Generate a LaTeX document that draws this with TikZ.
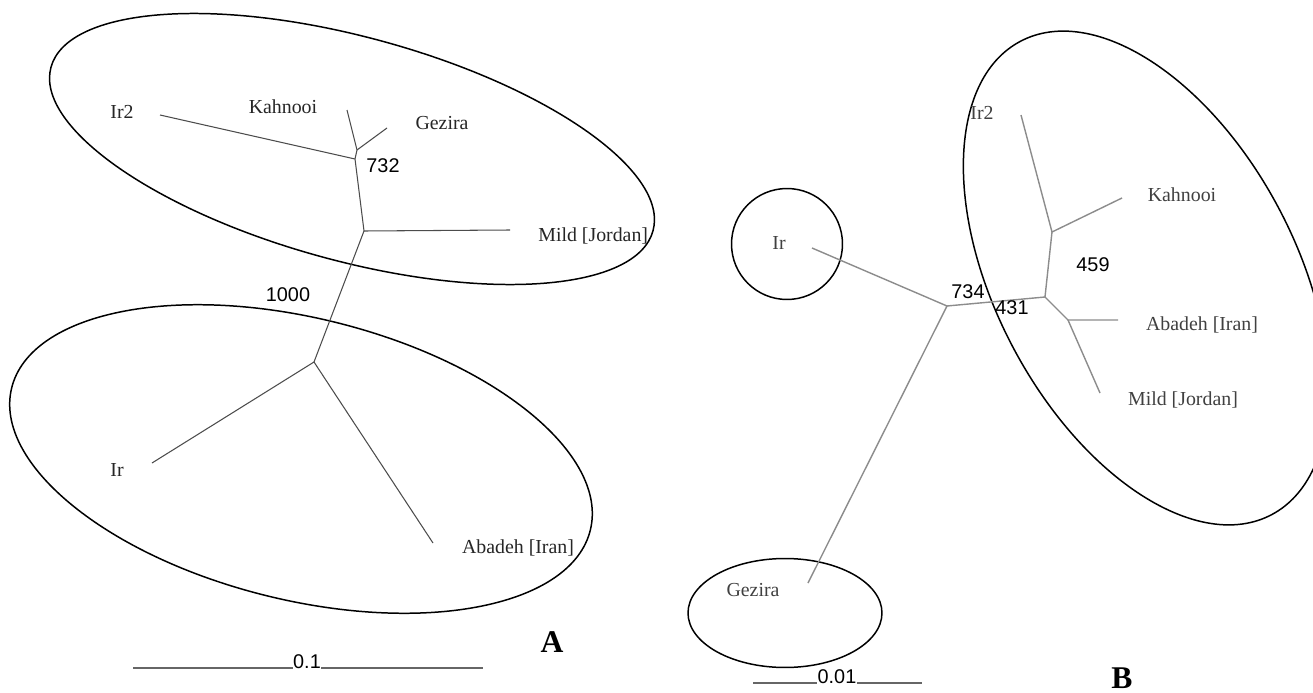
\documentclass[tikz,border=0pt]{standalone}
\usepackage{fontspec}
\setmainfont{Liberation Serif}
\newfontfamily\numfont{Liberation Sans}
\begin{document}
\begin{tikzpicture}[x=0.02cm, y=-0.02cm,
		taxon/.style={font=\fontsize{11.3}{13}\selectfont, inner sep=0pt, text=black!85},
		taxonB/.style={taxon, text=black!75},
		boot/.style={font=\numfont\fontsize{11.3}{13}\selectfont, inner sep=0pt},
		branchA/.style={draw=black!70, line width=0.6pt},
		branchB/.style={draw=black!45, line width=0.8pt},
		clade/.style={draw=black, line width=0.85pt},
		panel/.style={font=\fontsize{18}{20}\selectfont\bfseries, inner sep=0pt}]
			\useasboundingbox (0,0) rectangle (1313,693);
			\clip (0,0) rectangle (1313,693);
			% panel A
			\draw[clade, rotate around={-15.2:(352,149)}] (352,149) ellipse [x radius=6.24cm, y radius=2.24cm];
			\draw[clade, rotate around={-13.8:(301,459)}] (301,459) ellipse [x radius=5.96cm, y radius=2.82cm];
			\coordinate (kgA) at (357,150);
			\coordinate (irtwoA) at (355,159);
			\coordinate (mildA) at (364,231);
			\coordinate (rootA) at (314,362);
			\coordinate (eIrtwoA) at (160,115);
			\coordinate (eKahA) at (347,110);
			\coordinate (eGezA) at (387,128);
			\coordinate (eMildA) at (510,230);
			\coordinate (eIrA) at (152,463);
			\coordinate (eAbaA) at (433,543);
			\node[taxon] (lIrtwoA) at (122,112) {Ir2};
			\node[taxon] (lKahA) at (283,107) {Kahnooi};
			\node[taxon] (lGezA) at (442,123) {Gezira};
			\node[taxon, anchor=west] (lMildA) at (538,236) {Mild [Jordan]};
			\node[taxon] (lIrA) at (117,470) {Ir};
			\node[taxon] (lAbaA) at (518,548) {Abadeh [Iran]};
			\draw[branchA] (eIrtwoA) -- (irtwoA);
			\draw[branchA] (eKahA) -- (kgA) -- (irtwoA) -- (mildA) -- (rootA);
			\draw[branchA] (eGezA) -- (kgA);
			\draw[branchA] (eMildA) -- (mildA);
			\draw[branchA] (eIrA) -- (rootA) -- (eAbaA);
			\node[boot] (bsA) at (383,166) {732};
			\node[boot] (bsAroot) at (288,295) {1000};
			\node[boot, anchor=base] (barA) at (307,668) {0.1};
			\draw[draw=black!60, line width=0.7pt] (133,668) -- (barA.base west) (barA.base east) -- (483,668);
			\node[panel] (tagA) at (552,642) {A};
			% panel B
			\draw[clade, rotate around={-62:(1146,278)}] (1146,278) ellipse [x radius=5.36cm, y radius=3cm];
			\draw[clade] (787,244) circle (1.11cm);
			\draw[clade] (785,613) ellipse [x radius=1.94cm, y radius=1.09cm];
			\coordinate (rootB) at (947,306);
			\coordinate (midB) at (1045,297);
			\coordinate (upB) at (1052,232);
			\coordinate (lowB) at (1068,320);
			\coordinate (eIrB) at (812,248);
			\coordinate (eGezB) at (808,583);
			\coordinate (eIrtwoB) at (1021,115);
			\coordinate (eKahB) at (1122,198);
			\coordinate (eAbaB) at (1118,320);
			\coordinate (eMildB) at (1100,393);
			\node[taxonB] (lIrB) at (779,243) {Ir};
			\node[taxonB] (lGezB) at (753,590) {Gezira};
			\node[taxonB] (lIrtwoB) at (982,113) {Ir2};
			\node[taxonB] (lKahB) at (1182,195) {Kahnooi};
			\node[taxonB] (lAbaB) at (1202,325) {Abadeh [Iran]};
			\node[taxonB] (lMildB) at (1183,400) {Mild [Jordan]};
			\draw[branchB] (eIrB) -- (rootB) -- (eGezB);
			\draw[branchB] (rootB) -- (midB) -- (upB) -- (eIrtwoB);
			\draw[branchB] (upB) -- (eKahB);
			\draw[branchB] (midB) -- (lowB) -- (eAbaB);
			\draw[branchB] (lowB) -- (eMildB);
			\node[boot] (bsB) at (968,292) {734};
			\node[boot] (bsBmid) at (1012,308) {431};
			\node[boot] (bsBup) at (1093,265) {459};
			\node[boot, anchor=base] (barB) at (837,683) {0.01};
			\draw[draw=black!60, line width=0.7pt] (753,683) -- (barB.base west) (barB.base east) -- (922,683);
			\node[panel] (tagB) at (1122,678) {B};
\end{tikzpicture}
\end{document}
